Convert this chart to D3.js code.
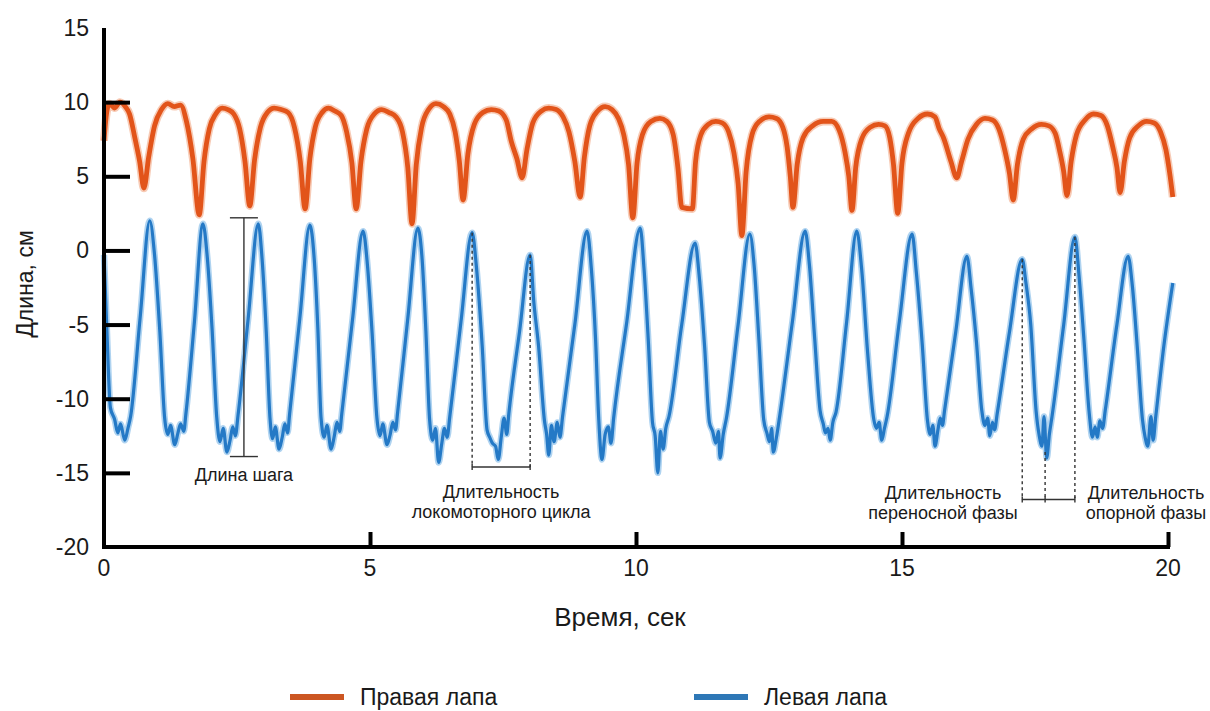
<!DOCTYPE html>
<html><head><meta charset="utf-8">
<script src="https://cdn.jsdelivr.net/npm/d3@7"></script>
<style>
html,body{margin:0;padding:0;background:#fff;}
svg{display:block;font-family:"Liberation Sans",Arial,sans-serif;}
</style></head>
<body><svg id="c" width="1210" height="711"></svg>
<script>
// ---- data ----
const xTicks = [0, 5, 10, 15, 20];
const yTicks = [15, 10, 5, 0, -5, -10, -15, -20];
const yInnerTicks = [10, 5, 0, -5, -10, -15];
const xInnerTicks = [5, 10, 15, 20];
const seriesNames = ["Правая лапа", "Левая лапа"];
const xTitle = "Время, сек";
const yTitle = "Длина, см";

// Right paw (orange): [time s, length cm]
const rightPaw = [
[0.00,7.4],[0.04,9.0],[0.10,9.9],[0.20,9.6],[0.30,10.0],[0.40,9.7],[0.48,9.2],[0.58,7.6],[0.67,6.0],[0.75,4.2],
[0.84,6.3],[0.95,8.4],[1.08,9.5],[1.20,9.9],[1.32,9.7],[1.44,9.8],[1.55,8.7],[1.67,6.2],[1.79,2.4],
[1.88,6.0],[1.98,8.2],[2.10,9.2],[2.22,9.6],[2.33,9.5],[2.44,9.2],[2.55,8.2],[2.65,6.0],[2.74,3.0],
[2.83,6.1],[2.94,8.3],[3.07,9.3],[3.20,9.6],[3.33,9.5],[3.46,9.3],[3.58,8.3],[3.69,6.0],[3.78,2.8],
[3.87,6.2],[3.97,8.3],[4.10,9.3],[4.22,9.6],[4.34,9.4],[4.46,9.1],[4.56,8.0],[4.66,5.9],[4.74,2.8],
[4.83,6.0],[4.94,8.2],[5.08,9.2],[5.22,9.5],[5.36,9.3],[5.49,9.0],[5.61,8.0],[5.71,5.6],[5.79,1.8],
[5.87,5.8],[5.97,8.3],[6.10,9.5],[6.24,9.9],[6.38,9.7],[6.50,9.2],[6.60,8.0],[6.68,6.0],[6.75,3.4],
[6.84,6.5],[6.96,8.5],[7.12,9.3],[7.28,9.5],[7.42,9.4],[7.56,8.8],[7.66,7.3],[7.76,6.2],[7.86,4.9],
[7.95,6.8],[8.06,8.6],[8.22,9.4],[8.36,9.6],[8.50,9.5],[8.63,9.0],[8.74,8.0],[8.85,6.0],[8.95,3.6],
[9.03,6.3],[9.13,8.4],[9.28,9.4],[9.42,9.7],[9.55,9.5],[9.67,8.9],[9.77,7.8],[9.86,5.8],[9.94,2.2],
[10.02,5.9],[10.12,7.8],[10.28,8.7],[10.45,8.9],[10.58,8.7],[10.70,7.8],[10.79,5.5],[10.86,2.9],[11.06,2.8],
[11.12,6.0],[11.22,7.8],[11.36,8.5],[11.50,8.7],[11.62,8.6],[11.74,8.0],[11.84,6.6],[11.92,4.5],[11.99,1.0],
[12.07,5.3],[12.18,7.8],[12.32,8.7],[12.50,9.0],[12.64,8.9],[12.76,8.3],[12.84,7.0],[12.90,5.0],[12.95,2.9],
[13.03,5.8],[13.14,7.6],[13.32,8.4],[13.52,8.7],[13.68,8.7],[13.82,8.1],[13.93,6.6],[14.00,5.0],[14.06,2.7],
[14.13,5.6],[14.24,7.5],[14.40,8.3],[14.56,8.5],[14.68,8.4],[14.77,7.6],[14.84,5.8],[14.92,2.5],
[15.00,5.9],[15.12,7.9],[15.30,8.9],[15.48,9.2],[15.62,9.0],[15.70,8.2],[15.78,7.6],[15.92,6.0],[16.03,4.9],
[16.12,6.0],[16.24,7.5],[16.40,8.5],[16.56,8.9],[16.70,8.8],[16.82,8.2],[16.93,6.8],[17.02,5.2],[17.09,3.4],
[17.17,5.8],[17.28,7.5],[17.44,8.2],[17.62,8.5],[17.76,8.4],[17.88,7.9],[17.97,6.6],[18.04,5.3],[18.10,3.7],
[18.18,6.0],[18.28,7.8],[18.44,8.8],[18.60,9.2],[18.74,9.1],[18.86,8.4],[18.96,7.0],[19.04,5.6],[19.10,3.9],
[19.18,6.0],[19.28,7.6],[19.44,8.4],[19.60,8.7],[19.74,8.6],[19.86,8.0],[19.96,6.8],[20.04,5.0],[20.09,3.6]
];

// Left paw (blue): [time s, length cm]
const leftPaw = [
[0.00,-0.3],[0.05,-5.0],[0.12,-10.6],
[0.20,-11.4],[0.26,-12.3],[0.31,-11.7],[0.39,-12.8],[0.45,-12.0],[0.50,-11.2],[0.68,-4.5],[0.86,2.0],
[0.95,-0.3],[1.05,-5.5],[1.14,-11.3],[1.20,-12.4],[1.25,-11.8],[1.33,-13.1],[1.39,-12.3],[1.44,-11.7],[1.50,-12.2],[1.54,-11.0],[1.70,-4.8],[1.86,1.8],
[1.94,-0.4],[2.03,-5.2],[2.12,-11.3],[2.18,-12.9],[2.24,-12.0],[2.31,-13.6],[2.37,-12.8],[2.42,-11.9],[2.47,-12.5],[2.52,-11.1],[2.71,-4.6],[2.90,1.8],
[2.97,-0.5],[3.05,-5.5],[3.12,-11.3],[3.17,-12.7],[3.22,-11.9],[3.29,-13.4],[3.35,-12.6],[3.40,-11.7],[3.45,-12.3],[3.49,-11.0],[3.68,-4.6],[3.87,1.7],
[3.95,-0.5],[4.02,-5.3],[4.08,-11.3],[4.14,-12.6],[4.19,-11.8],[4.27,-13.4],[4.33,-12.5],[4.38,-11.6],[4.43,-12.2],[4.47,-11.0],[4.67,-4.7],[4.87,1.3],
[4.95,-0.9],[5.04,-5.6],[5.13,-11.3],[5.19,-12.5],[5.24,-11.7],[5.32,-13.1],[5.38,-12.4],[5.43,-11.6],[5.48,-12.1],[5.52,-10.9],[5.71,-4.6],[5.90,1.5],
[5.98,-0.6],[6.05,-5.4],[6.12,-11.4],[6.18,-12.8],[6.23,-12.0],[6.29,-14.3],[6.35,-13.0],[6.40,-12.0],[6.45,-12.6],[6.50,-11.2],[6.71,-4.8],[6.92,1.2],
[7.00,-1.1],[7.11,-6.5],[7.20,-12.1],[7.25,-12.6],[7.30,-13.0],[7.36,-13.2],[7.41,-14.1],[7.47,-12.5],[7.52,-11.3],[7.57,-12.4],[7.61,-11.0],[7.81,-5.5],[8.01,-0.3],
[8.08,-3.5],[8.17,-6.5],[8.28,-11.5],[8.32,-12.4],[8.36,-13.8],[8.41,-11.8],[8.46,-12.9],[8.52,-11.6],[8.57,-12.6],[8.62,-11.2],[8.85,-5.0],[9.08,1.3],
[9.16,-1.2],[9.24,-6.0],[9.30,-11.4],[9.36,-14.1],[9.42,-12.4],[9.48,-11.9],[9.53,-13.0],[9.58,-11.3],[9.82,-5.0],[10.08,1.5],
[10.15,-1.2],[10.23,-6.0],[10.31,-11.6],[10.36,-12.5],[10.41,-15.0],[10.46,-12.2],[10.51,-13.4],[10.56,-12.0],[10.62,-11.2],[10.86,-5.0],[11.11,0.5],
[11.19,-1.8],[11.29,-6.5],[11.38,-11.6],[11.44,-12.2],[11.50,-13.0],[11.55,-12.2],[11.58,-14.0],[11.64,-12.4],[11.70,-11.3],[11.92,-5.0],[12.14,1.1],
[12.22,-1.0],[12.31,-6.0],[12.40,-11.4],[12.46,-12.3],[12.51,-12.9],[12.55,-12.0],[12.58,-13.6],[12.64,-12.6],[12.70,-11.2],[12.94,-4.8],[13.18,1.3],
[13.26,-1.0],[13.36,-6.0],[13.46,-10.8],[13.52,-11.7],[13.56,-12.3],[13.61,-12.0],[13.65,-12.8],[13.70,-11.6],[13.76,-10.9],[13.96,-4.8],[14.15,1.3],
[14.24,-1.2],[14.35,-6.7],[14.47,-11.4],[14.52,-12.0],[14.57,-11.6],[14.62,-12.8],[14.67,-12.0],[14.72,-11.2],[14.95,-4.8],[15.19,1.1],
[15.27,-1.5],[15.38,-6.3],[15.48,-11.5],[15.53,-12.4],[15.58,-11.8],[15.62,-13.2],[15.68,-12.0],[15.72,-11.3],[15.76,-11.8],[15.80,-10.8],[16.01,-5.5],[16.22,-0.4],
[16.30,-2.6],[16.40,-6.2],[16.50,-10.8],[16.56,-11.8],[16.61,-11.3],[16.65,-12.5],[16.70,-11.6],[16.74,-12.1],[16.79,-11.0],[17.02,-5.5],[17.26,-0.6],
[17.33,-2.2],[17.42,-5.0],[17.52,-10.8],[17.58,-12.5],[17.63,-13.2],[17.67,-11.2],[17.72,-14.0],[17.77,-12.4],[17.82,-11.2],[18.04,-5.0],[18.25,0.9],
[18.33,-1.8],[18.42,-6.0],[18.52,-11.0],[18.58,-12.6],[18.63,-11.9],[18.67,-12.6],[18.72,-11.5],[18.77,-12.0],[18.82,-10.8],[19.04,-5.0],[19.25,-0.4],
[19.33,-2.4],[19.42,-6.4],[19.52,-11.4],[19.57,-12.6],[19.62,-13.2],[19.68,-11.2],[19.72,-12.8],[19.77,-11.2],[19.92,-6.5],[20.09,-2.2]
];

// Annotations (data units)
const stepLength = {t: 2.63, top: 2.2, bottom: -13.9, label: "Длина шага"};
const cycleBracket = {t1: 6.92, v1: 1.2, t2: 8.01, v2: -0.3, level: -14.6, label: ["Длительность", "локомоторного цикла"]};
const phaseBracket = {t1: 17.26, v1: -0.6, tm: 17.69, vm: -13.6, t2: 18.25, v2: 0.9, level: -16.8,
  labelLeft: ["Длительность", "переносной фазы"], labelRight: ["Длительность", "опорной фазы"]};

// ---- drawing ----
const svg = d3.select("#c");
const x = d3.scaleLinear().domain([0, 20]).range([104, 1168]);
const y = d3.scaleLinear().domain([-20, 15]).range([547, 28]);
const ORANGE = "#e2541a", BLUE = "#2479c6";
const ink = "#1a1a1a";

const line = d3.line().x(d => x(d[0])).y(d => y(d[1])).curve(d3.curveMonotoneX);

// soft halo + core for the noisy traces
svg.append("path").attr("d", line(rightPaw)).attr("fill", "none")
  .attr("stroke", "#f0a07a").attr("stroke-width", 8).attr("stroke-linejoin", "round").attr("opacity", 0.55);
svg.append("path").attr("d", line(rightPaw)).attr("fill", "none")
  .attr("stroke", ORANGE).attr("stroke-width", 4.8).attr("stroke-linejoin", "round");
svg.append("path").attr("d", line(leftPaw)).attr("fill", "none")
  .attr("stroke", "#7ab6e6").attr("stroke-width", 6.5).attr("stroke-linejoin", "round").attr("opacity", 0.6);
svg.append("path").attr("d", line(leftPaw)).attr("fill", "none")
  .attr("stroke", BLUE).attr("stroke-width", 3.2).attr("stroke-linejoin", "round");

// axes
const yAxis = d3.axisRight(y).tickValues(yInnerTicks).tickSize(26).tickFormat("");
const gy = svg.append("g").attr("transform", `translate(${x(0)},0)`).call(yAxis);
gy.select(".domain").remove();
gy.selectAll(".tick line").attr("stroke", "#000").attr("stroke-width", 4);

const xAxis = d3.axisTop(x).tickValues(xInnerTicks).tickSize(15).tickFormat("");
const gx = svg.append("g").attr("transform", `translate(0,${y(-20)})`).call(xAxis);
gx.select(".domain").remove();
gx.selectAll(".tick line").attr("stroke", "#000").attr("stroke-width", 4);

svg.append("line").attr("x1", x(0)).attr("x2", x(0)).attr("y1", y(15)).attr("y2", y(-20) + 2)
  .attr("stroke", "#000").attr("stroke-width", 4);
svg.append("line").attr("x1", x(0) - 2).attr("x2", x(20) + 2).attr("y1", y(-20)).attr("y2", y(-20))
  .attr("stroke", "#000").attr("stroke-width", 4);

// tick labels
svg.append("g").selectAll("text").data(yTicks).join("text")
  .attr("x", 89).attr("y", d => y(d)).attr("dy", "0.35em").attr("text-anchor", "end")
  .attr("font-size", 23).attr("fill", ink).text(d => d);
svg.append("g").selectAll("text").data(xTicks).join("text")
  .attr("x", d => x(d)).attr("y", 576).attr("text-anchor", "middle")
  .attr("font-size", 23).attr("fill", ink).text(d => d);

// axis titles
svg.append("text").attr("x", 620).attr("y", 626).attr("text-anchor", "middle")
  .attr("font-size", 26).attr("fill", ink).text(xTitle);
svg.append("text").attr("transform", "translate(33,284) rotate(-90)").attr("text-anchor", "middle")
  .attr("font-size", 23).attr("fill", ink).text(yTitle);

// annotations
const ann = svg.append("g").attr("stroke", "#333").attr("fill", "none");
// step length
ann.append("line").attr("x1", x(stepLength.t)).attr("x2", x(stepLength.t))
  .attr("y1", y(stepLength.top)).attr("y2", y(stepLength.bottom)).attr("stroke-width", 1.4);
[stepLength.top, stepLength.bottom].forEach(v => {
  ann.append("line").attr("x1", x(stepLength.t) - 14).attr("x2", x(stepLength.t) + 14)
    .attr("y1", y(v)).attr("y2", y(v)).attr("stroke-width", 1.4);
});
// cycle bracket
[[cycleBracket.t1, cycleBracket.v1], [cycleBracket.t2, cycleBracket.v2]].forEach(([t, v]) => {
  ann.append("line").attr("x1", x(t)).attr("x2", x(t)).attr("y1", y(v)).attr("y2", y(cycleBracket.level))
    .attr("stroke-width", 1.4).attr("stroke-dasharray", "3,3");
  ann.append("line").attr("x1", x(t)).attr("x2", x(t)).attr("y1", y(cycleBracket.level) - 3).attr("y2", y(cycleBracket.level) + 3)
    .attr("stroke-width", 1.4);
});
ann.append("line").attr("x1", x(cycleBracket.t1)).attr("x2", x(cycleBracket.t2))
  .attr("y1", y(cycleBracket.level)).attr("y2", y(cycleBracket.level)).attr("stroke-width", 1.4);
// phase bracket
[[phaseBracket.t1, phaseBracket.v1], [phaseBracket.tm, phaseBracket.vm], [phaseBracket.t2, phaseBracket.v2]].forEach(([t, v]) => {
  ann.append("line").attr("x1", x(t)).attr("x2", x(t)).attr("y1", y(v)).attr("y2", y(phaseBracket.level))
    .attr("stroke-width", 1.4).attr("stroke-dasharray", "3,3");
  ann.append("line").attr("x1", x(t)).attr("x2", x(t)).attr("y1", y(phaseBracket.level) - 3).attr("y2", y(phaseBracket.level) + 3)
    .attr("stroke-width", 1.4);
});
ann.append("line").attr("x1", x(phaseBracket.t1)).attr("x2", x(phaseBracket.t2))
  .attr("y1", y(phaseBracket.level)).attr("y2", y(phaseBracket.level)).attr("stroke-width", 1.4);

const annText = (cx, y0, lines) => {
  lines.forEach((s, i) => {
    svg.append("text").attr("x", cx).attr("y", y0 + i * 20).attr("text-anchor", "middle")
      .attr("font-size", 18).attr("fill", ink).text(s);
  });
};
annText(x(stepLength.t), 481, [stepLength.label]);
annText((x(cycleBracket.t1) + x(cycleBracket.t2)) / 2, 498, cycleBracket.label);
annText(943, 499, phaseBracket.labelLeft);
annText(1146, 499, phaseBracket.labelRight);

// legend
const legend = [{name: seriesNames[0], color: "#cc5622", x0: 290}, {name: seriesNames[1], color: "#2e77b6", x0: 694}];
const lg = svg.append("g").selectAll("g").data(legend).join("g");
lg.append("line").attr("x1", d => d.x0).attr("x2", d => d.x0 + 54).attr("y1", 697).attr("y2", 697)
  .attr("stroke", d => d.color).attr("stroke-width", 6);
lg.append("text").attr("x", d => d.x0 + 70).attr("y", 705).attr("font-size", 23).attr("fill", ink).text(d => d.name);
</script></body></html>
